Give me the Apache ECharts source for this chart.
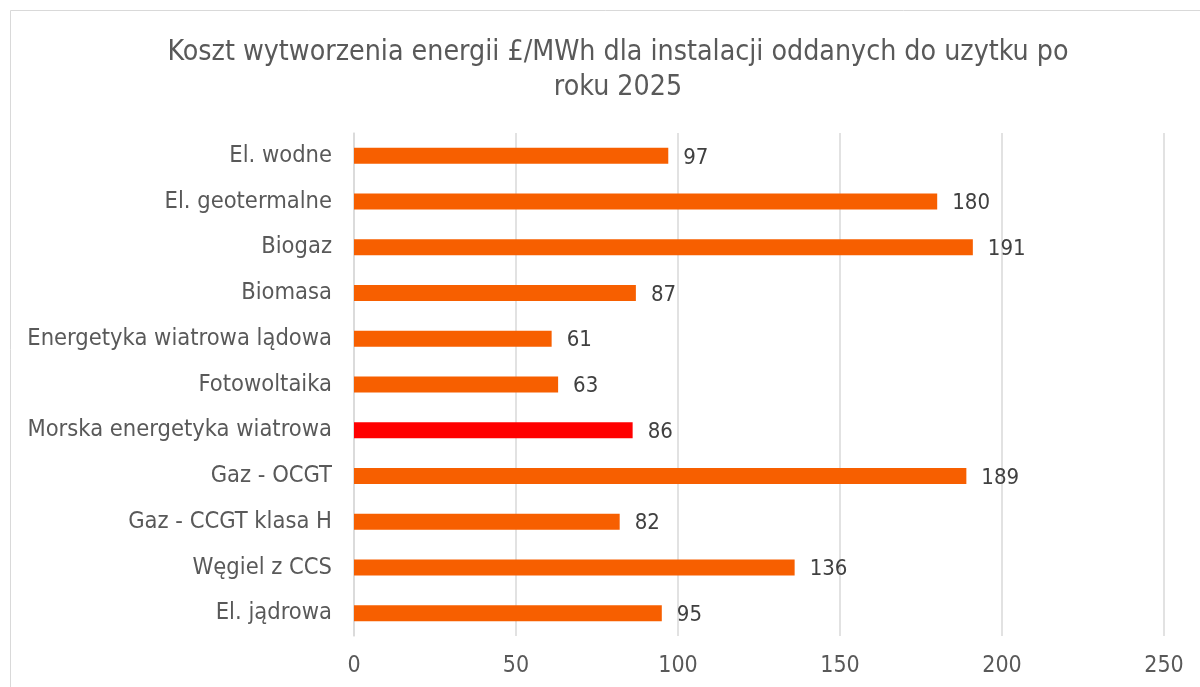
<!DOCTYPE html>
<html><head><meta charset="utf-8">
<script src="https://cdn.jsdelivr.net/npm/echarts@6/dist/echarts.min.js"></script>
<style>html,body{margin:0;padding:0;background:#fff}#c{width:1200px;height:687px}</style>
</head><body><div id="c"></div>
<script>
const titleText = 'Koszt wytworzenia energii £/MWh dla instalacji oddanych do uzytku po\nroku 2025';
const categories = ['El. jądrowa','Węgiel z CCS','Gaz - CCGT klasa H','Gaz - OCGT','Morska energetyka wiatrowa','Fotowoltaika','Energetyka wiatrowa lądowa','Biomasa','Biogaz','El. geotermalne','El. wodne'];
const values = [95,136,82,189,86,63,61,87,191,180,97];
const highlight = 'Morska energetyka wiatrowa';
const xTicks = [0,50,100,150,200,250];

const font = '"DejaVu Sans Condensed", "DejaVu Sans", sans-serif';
const chart = echarts.init(document.getElementById('c'));
chart.setOption({
  animation:false,
  backgroundColor:'#fff',
  graphic:[{type:'rect',shape:{x:10.5,y:10.5,width:1200,height:700},style:{fill:'none',stroke:'#d9d9d9',lineWidth:1},silent:true}],
  title:{text:titleText,left:613,top:30,textAlign:'center',
    textStyle:{fontFamily:font,fontSize:28.3,fontWeight:'normal',color:'#595959',lineHeight:35}},
  grid:{left:354,right:36,top:133,bottom:51,containLabel:false},
  xAxis:{type:'value',min:xTicks[0],max:xTicks[xTicks.length-1],interval:50,
    axisLine:{show:false},axisTick:{show:false},
    splitLine:{lineStyle:{color:'#d9d9d9',width:1.5}},
    axisLabel:{fontFamily:font,fontSize:23,color:'#595959',margin:19}},
  yAxis:{type:'category',data:categories,
    axisLine:{show:true,lineStyle:{color:'#d9d9d9',width:1.5}},axisTick:{show:false},
    axisLabel:{fontFamily:font,fontSize:23.5,color:'#595959',margin:22}},
  series:[{type:'bar',barWidth:16,
    data:values.map((v,i)=>({value:v,itemStyle:{color:categories[i]===highlight?'#FF0000':'#F75F00'}})),
    label:{show:true,position:'right',distance:15,offset:[0,2],fontFamily:font,fontSize:22,color:'#404040'}}]
});
</script></body></html>
